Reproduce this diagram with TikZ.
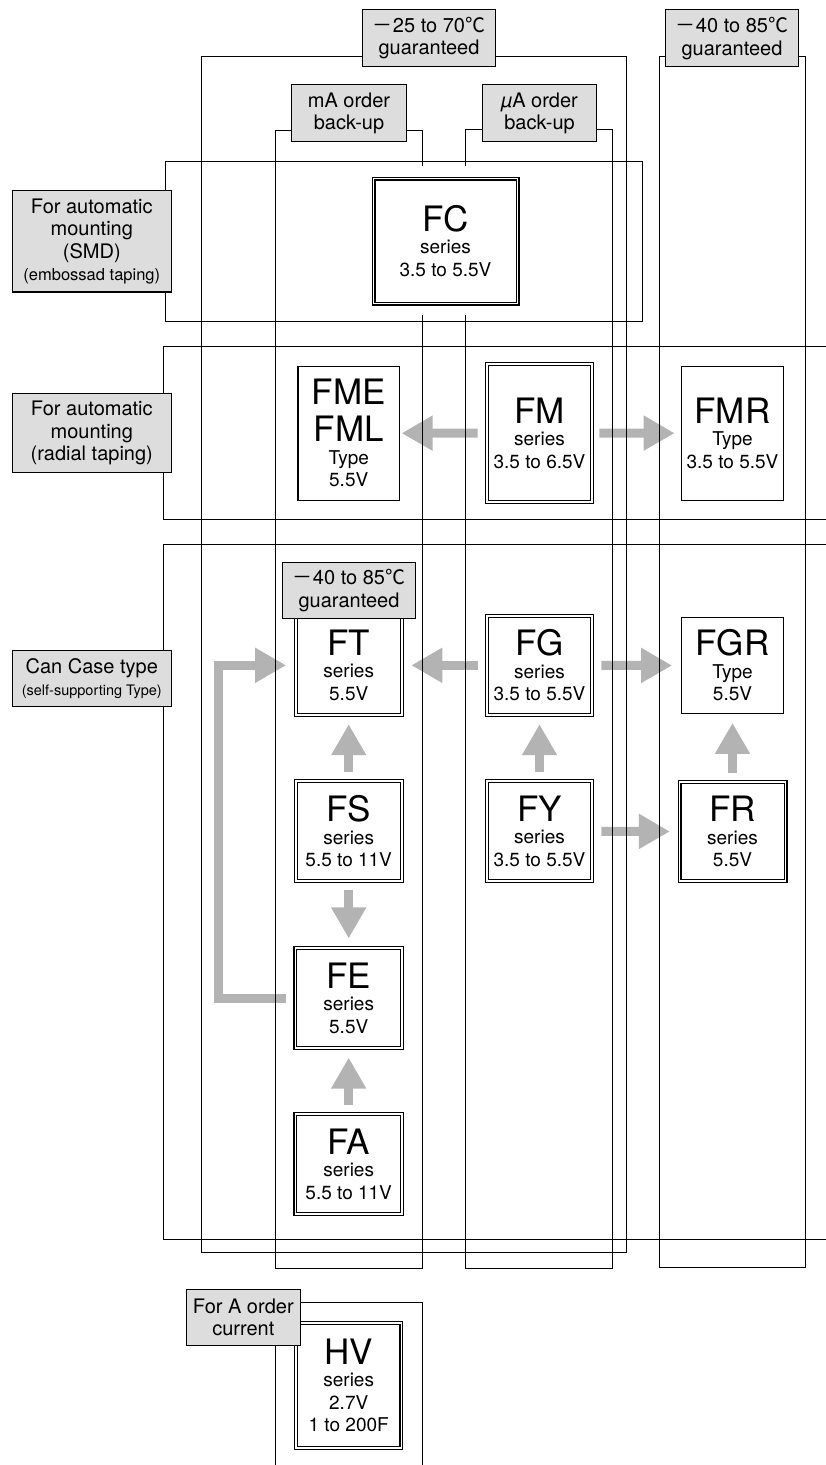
\documentclass[tikz,border=0pt]{standalone}
\usepackage{fontspec}
\setmainfont{TeX Gyre Heros}
\newfontfamily\cjk{Noto Sans CJK JP}
\usetikzlibrary{arrows.meta}
\definecolor{tagfill}{HTML}{DDDDDD}
\definecolor{flowgray}{HTML}{B3B3B3}
\newcommand{\seriesfont}{\fontsize{35}{35}\selectfont}
\newcommand{\degC}{{\cjk ℃}}
\newcommand{\wminus}{{\cjk －}}
\pgfdeclarelayer{flows}
\pgfdeclarelayer{frames}
\pgfsetlayers{flows,frames,main}

\begin{document}
\begin{tikzpicture}[x=1pt,y=-1pt,
    sbox/.style={draw,double,double distance=1.8pt,line width=1.1pt,fill=white,inner sep=0pt,
      align=center,font=\fontsize{19}{22.5}\selectfont},
    tbox/.style={draw,line width=1.2pt,fill=white,inner sep=0pt,
      align=center,font=\fontsize{19}{22.5}\selectfont},
    tag/.style={draw,line width=1.2pt,fill=tagfill,inner sep=0pt,
      align=center,font=\fontsize{20}{22.5}\selectfont},
    frame/.style={line width=1.2pt},
    flow/.style={draw=flowgray,line width=9pt,-{Triangle[width=33pt,length=31pt]},
      shorten <=8.5pt,shorten >=9pt}]
        \useasboundingbox (0,0) rectangle (825,1465);

        \path
        (445.5,241) node[sbox,minimum width=144pt,minimum height=125pt](FC) {{\seriesfont FC}\\series\\3.5 to 5.5V}
        (348.7,433.2) node[tbox,minimum width=101.5pt,minimum height=134pt](FME) {{\seriesfont FME}\\[10.5pt]{\seriesfont FML}\\Type\\5.5V}
        (539.5,433) node[sbox,minimum width=105.5pt,minimum height=137.5pt](FM) {{\seriesfont FM}\\series\\3.5 to 6.5V}
        (732.5,433.2) node[tbox,minimum width=101.5pt,minimum height=134pt](FMR) {{\seriesfont FMR}\\Type\\3.5 to 5.5V}
        ;

        \path
        (348.7,665.3) node[sbox,minimum width=106pt,minimum height=98.7pt](FT) {{\seriesfont FT}\\series\\5.5V}
        (539.5,665.3) node[sbox,minimum width=105.5pt,minimum height=98.7pt](FG) {{\seriesfont FG}\\series\\3.5 to 5.5V}
        (732.5,665.5) node[tbox,minimum width=101.5pt,minimum height=95.5pt](FGR) {{\seriesfont FGR}\\Type\\5.5V}
        (348.7,831.3) node[sbox,minimum width=106pt,minimum height=100pt](FS) {{\seriesfont FS}\\series\\5.5 to 11V}
        (539.5,831.3) node[sbox,minimum width=105.5pt,minimum height=100pt](FY) {{\seriesfont FY}\\series\\3.5 to 5.5V}
        (732.5,831.5) node[sbox,minimum width=106pt,minimum height=99pt](FR) {{\seriesfont FR}\\series\\5.5V}
        (348.7,998) node[sbox,minimum width=106.5pt,minimum height=100pt](FE) {{\seriesfont FE}\\series\\5.5V}
        (348.7,1164.2) node[sbox,minimum width=106.5pt,minimum height=100pt](FA) {{\seriesfont FA}\\series\\5.5 to 11V}
        (348.7,1385.5) node[sbox,minimum width=105.5pt,minimum height=125pt](HV) {{\seriesfont HV}\\series\\2.7V\\1 to 200F}
        ;

        \path
        (429,38) node[tag,minimum width=133.5pt,minimum height=56.5pt](temp70) {\wminus 25 to 70\degC\\guaranteed}
        (732,38.3) node[tag,minimum width=133.5pt,minimum height=57pt](temp85) {\wminus 40 to 85\degC\\guaranteed}
        (349,113.3) node[tag,minimum width=114.5pt,minimum height=57pt](mAtag) {mA order\\back-up}
        (539.5,113.3) node[tag,minimum width=114.5pt,minimum height=57pt](uAtag) {{\itshape µ}A order\\back-up}
        (91.8,241.3) node[tag,minimum width=159.2pt,minimum height=101.5pt](smd) {For automatic\\mounting\\(SMD)\\{\fontsize{16.5}{18}\selectfont(embossad taping)}}
        (91.8,433) node[tag,minimum width=159.2pt,minimum height=79.5pt](radial) {For automatic\\mounting\\(radial taping)}
        (91.8,678.5) node[tag,minimum width=159.2pt,minimum height=56.5pt](cancase) {Can Case type\\{\fontsize{14.5}{16}\selectfont(self-supporting Type)}}
        (349,590.5) node[tag,minimum width=133.5pt,minimum height=56.5pt](tempFT) {\wminus 40 to 85\degC\\guaranteed}
        (243.3,1317.5) node[tag,minimum width=114.3pt,minimum height=56pt](Aorder) {For A order\\current}
        ;

        \begin{pgfonlayer}{frames}
        \draw[frame] (201.5,56.5) rectangle (626.5,1252.5);
        \draw[frame] (659.5,56.5) rectangle (805.5,1267.5);
        \draw[frame] (275.5,130.5) rectangle (422.5,1268.5);
        \draw[frame] (465.5,129.5) rectangle (612.5,1268.5);
        \draw[frame] (165.5,161.5) rectangle (642.5,321.5);
        \draw[frame] (830,346.5) -- (163.5,346.5) -- (163.5,519.5) -- (830,519.5);
        \draw[frame] (830,544.5) -- (163.5,544.5) -- (163.5,1239.5) -- (830,1239.5);
        \draw[frame] (275.5,1470) |- (422.5,1302.5) -- (422.5,1470);
        \fill[white] (412,165.7) rectangle (476,315);
        \end{pgfonlayer}

        \begin{pgfonlayer}{flows}
        \draw[flow,shorten >=1.5pt] (FM.west) -- (FME.east);
        \draw[flow,shorten <=6.5pt,shorten >=6.5pt] (FM.east) -- (FMR.west);
        \draw[flow] (FG.west) -- (FT.east);
        \draw[flow] (FG.east) -- (FGR.west);
        \draw[flow] (FY.east) -- (FR.west);
        \draw[flow] (FS.north) -- (FT.south);
        \draw[flow] (FY.north) -- (FG.south);
        \draw[flow] (FR.north) -- (FGR.south);
        \draw[flow] (FS.south) -- (FE.north);
        \draw[flow] (FA.north) -- (FE.south);
        \draw[flow] (FE.west) -- ++(-76,0) |- (FT.west);
        \end{pgfonlayer}
      \end{tikzpicture}
\end{document}
